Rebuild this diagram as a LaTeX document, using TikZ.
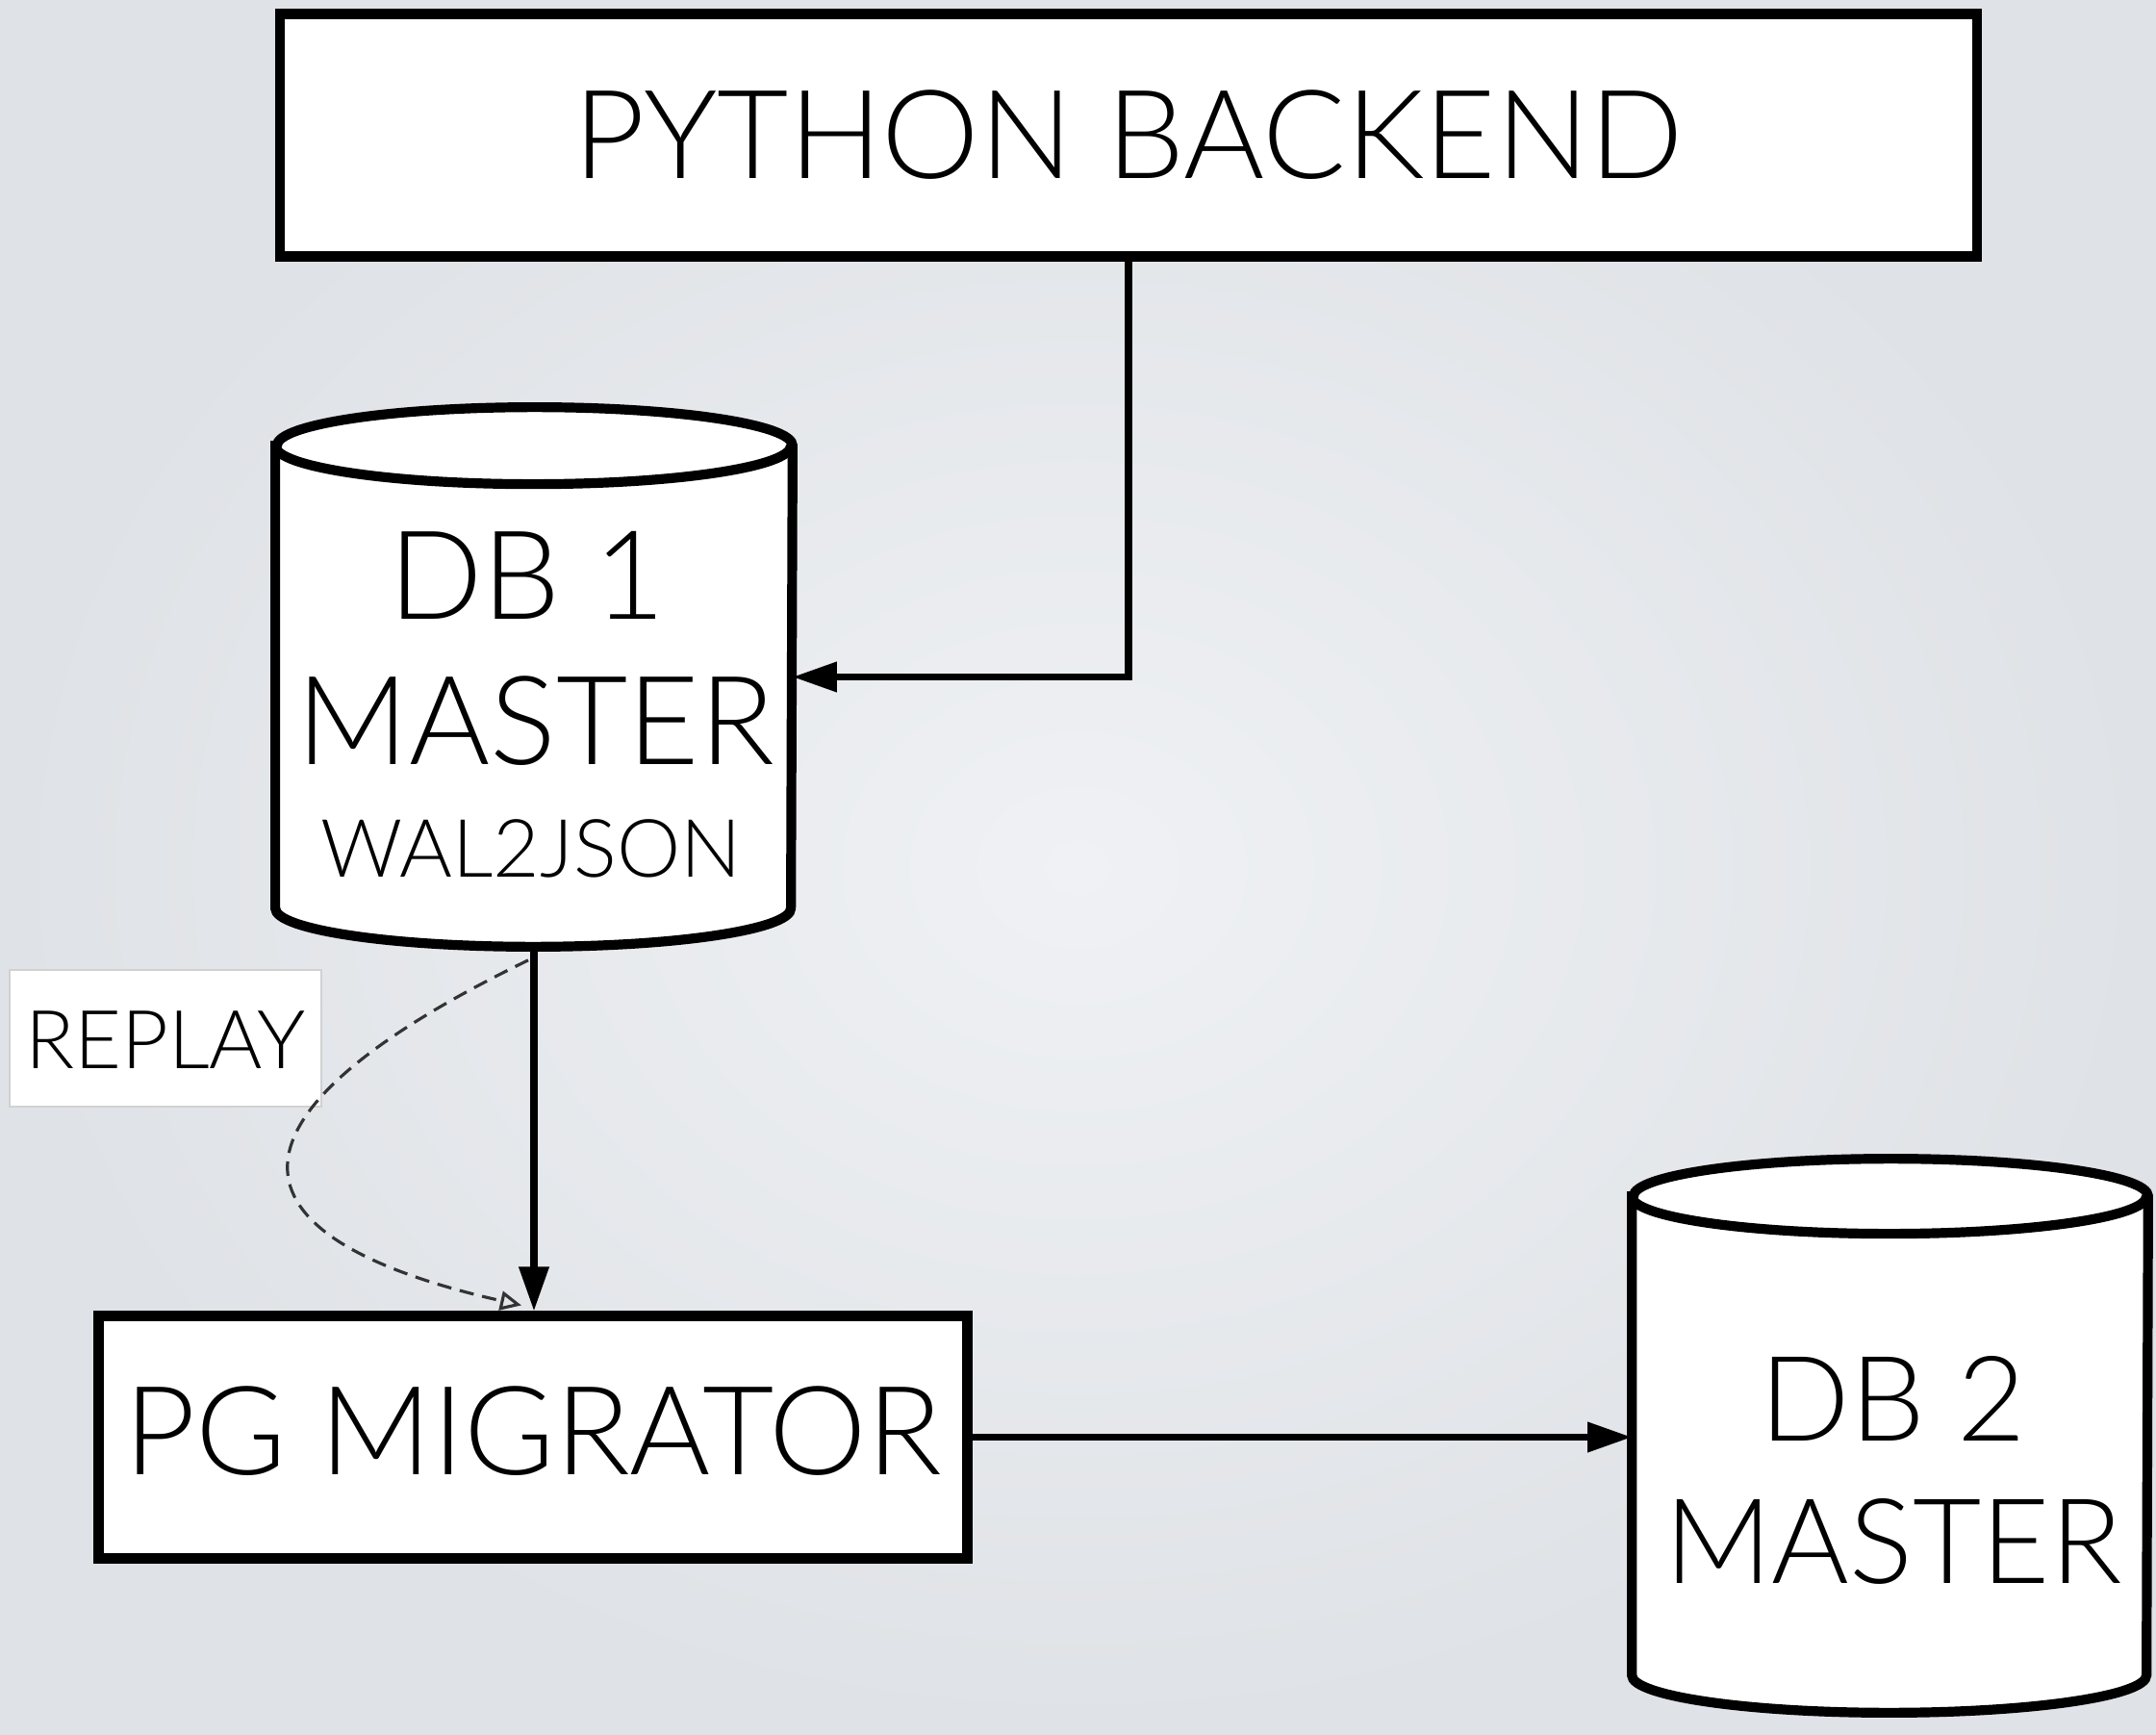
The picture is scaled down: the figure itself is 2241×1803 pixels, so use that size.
\documentclass[tikz,border=0pt]{standalone}
\usepackage{fontspec}
\setmainfont{Lato}[UprightFont={* Light}]
\usetikzlibrary{arrows.meta,calc}
\definecolor{bgin}{HTML}{EFF1F4}
\definecolor{bgout}{HTML}{DFE2E6}
\begin{document}
\begin{tikzpicture}[x=0.01cm,y=-0.01cm,
  box/.style={draw=black, line width=3.1pt, fill=white, inner sep=0pt},
  cylbody/.style={inner sep=0pt, draw=none},
  cyl/.style={draw=black, line width=2.9pt, fill=white},
  conn/.style={line width=2pt, -{Triangle[length=0.46cm,width=0.3cm]}},
  dashconn/.style={line width=0.9pt, draw=black!80, dash pattern=on 0.15cm off 0.09cm, -{Triangle[open,length=0.22cm,width=0.2cm]}},
  big/.style={font=\fontsize{36.5}{40}\selectfont, anchor=base, inner sep=0pt},
  mid/.style={font=\fontsize{35}{40}\selectfont, anchor=base, inner sep=0pt},
  small/.style={font=\fontsize{23.8}{28}\selectfont, anchor=base, inner sep=0pt},
  lbl/.style={font=\fontsize{24}{30}\selectfont, anchor=base, inner sep=0pt}]
\shade[inner color=bgin, outer color=bgout] (0,0) rectangle (2241,1803);
\useasboundingbox (0,0) rectangle (2241,1803);

% Python backend
\node[box, minimum width=17.63cm, minimum height=2.51cm] (py) at (1173,140.5) {};
\node[big] (pyt) at (1173,186) {PYTHON BACKEND};

% DB1 cylinder
\node[cylbody, minimum width=5.36cm, minimum height=5.59cm] (db1) at (555,703.5) {};
\draw[cyl] ($(db1.north west)+(0,40)$) -- ($(db1.south west)+(0,-40)$)
  arc[start angle=180,end angle=0,x radius=268,y radius=40]
  -- ($(db1.north east)+(0,40)$)
  arc[start angle=0,end angle=-180,x radius=268,y radius=40] -- cycle;
\draw[cyl, fill=none] ($(db1.north west)+(0,40)$) arc[start angle=180,end angle=0,x radius=268,y radius=40];
\node[big] (db1a) at (548,643) {DB 1};
\node[big] (db1b) at (557,794) {MASTER};
\node[small] (db1c) at (552,911) {WAL2JSON};

% PG migrator
\node[box, minimum width=9.02cm, minimum height=2.51cm] (pg) at (554,1493.5) {};
\node[big] (pgt) at (554,1532) {PG MIGRATOR};

% DB2 cylinder
\node[cylbody, minimum width=5.35cm, minimum height=5.74cm] (db2) at (1964.5,1492) {};
\draw[cyl] ($(db2.north west)+(0,39)$) -- ($(db2.south west)+(0,-39)$)
  arc[start angle=180,end angle=0,x radius=267.5,y radius=39]
  -- ($(db2.north east)+(0,39)$)
  arc[start angle=0,end angle=-180,x radius=267.5,y radius=39] -- cycle;
\draw[cyl, fill=none] ($(db2.north west)+(0,39)$) arc[start angle=180,end angle=0,x radius=267.5,y radius=39];
\node[mid] (db2a) at (1968,1497) {DB 2};
\node[mid] (db2b) at (1968,1645) {MASTER};

% Replay label
\node[draw=black!18, line width=0.6pt, fill=white, minimum width=3.24cm, minimum height=1.42cm, inner sep=0pt] (rp) at (172,1079) {};
\node[lbl] (rpt) at (172,1110) {REPLAY};

% connectors
\draw[conn] (py.south) |- (db1.east);
\draw[conn] (db1.south) -- (db1.south |- pg.north);
\coordinate (ds) at ($(db1.south)+(-6,14)$);
\coordinate (de) at ($(pg.north)+(-12,-6)$);
\draw[dashconn] (ds) .. controls (215,1160) and (225,1285) .. (de);
\draw[conn] (pg.east) -- (pg.east -| db2.west);
\end{tikzpicture}
\end{document}
